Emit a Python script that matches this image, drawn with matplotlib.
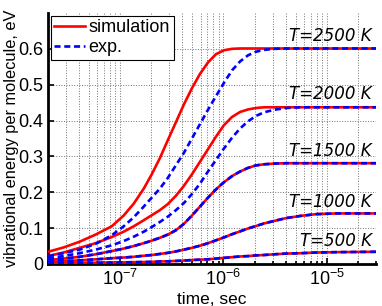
import numpy as np
import matplotlib
matplotlib.use("Agg")
import matplotlib.pyplot as plt
from matplotlib.ticker import LogLocator, NullFormatter

# time, sec
time = [2.0e-8, 2.82e-8, 4.04e-8, 5.78e-8, 8.27e-8, 1.08e-7, 1.35e-7, 1.69e-7, 2.02e-7,
        2.42e-7, 2.89e-7, 3.46e-7, 4.14e-7, 4.95e-7, 5.92e-7, 7.08e-7, 8.46e-7, 1.01e-6,
        1.21e-6, 1.45e-6, 1.73e-6, 2.07e-6, 2.47e-6, 3.09e-6, 4.05e-6, 5.54e-6, 7.91e-6,
        1.24e-5, 3.0e-5]

sim_2500 = [0.034, 0.046, 0.062, 0.082, 0.105, 0.135, 0.168, 0.210, 0.250, 0.295, 0.345,
            0.395, 0.445, 0.490, 0.530, 0.562, 0.585, 0.596, 0.600, 0.601, 0.601, 0.601,
            0.601, 0.601, 0.601, 0.601, 0.601, 0.601, 0.601]
exp_2500 = [0.022, 0.030, 0.040, 0.056, 0.080, 0.105, 0.130, 0.160, 0.185, 0.210, 0.240,
            0.275, 0.310, 0.350, 0.390, 0.430, 0.468, 0.505, 0.540, 0.565, 0.582, 0.592,
            0.597, 0.600, 0.601, 0.601, 0.601, 0.601, 0.601]
sim_2000 = [0.022, 0.032, 0.045, 0.058, 0.075, 0.090, 0.105, 0.122, 0.136, 0.150, 0.167,
            0.190, 0.218, 0.250, 0.285, 0.320, 0.355, 0.387, 0.410, 0.424, 0.431, 0.435,
            0.437, 0.437, 0.437, 0.437, 0.437, 0.437, 0.437]
exp_2000 = [0.016, 0.022, 0.030, 0.040, 0.052, 0.064, 0.076, 0.090, 0.103, 0.117, 0.132,
            0.150, 0.170, 0.195, 0.224, 0.258, 0.290, 0.322, 0.352, 0.378, 0.398, 0.413,
            0.423, 0.430, 0.435, 0.437, 0.437, 0.437, 0.437]
sim_1500 = [0.011, 0.015, 0.020, 0.027, 0.036, 0.043, 0.050, 0.058, 0.065, 0.073, 0.082,
            0.094, 0.112, 0.135, 0.160, 0.185, 0.208, 0.228, 0.245, 0.258, 0.268, 0.275,
            0.278, 0.280, 0.281, 0.281, 0.281, 0.281, 0.281]
exp_1500 = [0.011, 0.015, 0.020, 0.027, 0.036, 0.043, 0.050, 0.058, 0.065, 0.073, 0.082,
            0.094, 0.112, 0.135, 0.160, 0.185, 0.208, 0.228, 0.245, 0.258, 0.268, 0.275,
            0.278, 0.280, 0.281, 0.281, 0.281, 0.281, 0.281]
sim_1000 = [0.006, 0.008, 0.010, 0.013, 0.016, 0.018, 0.020, 0.023, 0.025, 0.028, 0.031,
            0.035, 0.040, 0.045, 0.051, 0.058, 0.066, 0.074, 0.083, 0.091, 0.099, 0.106,
            0.113, 0.120, 0.128, 0.134, 0.139, 0.141, 0.141]
exp_1000 = [0.006, 0.008, 0.010, 0.013, 0.016, 0.018, 0.020, 0.023, 0.025, 0.028, 0.031,
            0.035, 0.040, 0.045, 0.051, 0.058, 0.066, 0.074, 0.083, 0.091, 0.099, 0.106,
            0.113, 0.120, 0.128, 0.134, 0.139, 0.141, 0.141]
sim_500 = [0.002, 0.0025, 0.003, 0.0035, 0.004, 0.0045, 0.005, 0.0055, 0.006, 0.007, 0.0075,
           0.0085, 0.0095, 0.011, 0.012, 0.013, 0.015, 0.017, 0.019, 0.021, 0.022, 0.024,
           0.025, 0.027, 0.029, 0.030, 0.032, 0.033, 0.034]
exp_500 = [0.002, 0.0025, 0.003, 0.0035, 0.004, 0.0045, 0.005, 0.0055, 0.006, 0.007, 0.0075,
           0.0085, 0.0095, 0.011, 0.012, 0.013, 0.015, 0.017, 0.019, 0.021, 0.022, 0.024,
           0.025, 0.027, 0.029, 0.030, 0.032, 0.033, 0.034]

temp_labels = ["T=2500 K", "T=2000 K", "T=1500 K", "T=1000 K", "T=500 K"]
label_y = [0.622, 0.460, 0.300, 0.159, 0.050]

sims = [sim_2500, sim_2000, sim_1500, sim_1000, sim_500]
exps = [exp_2500, exp_2000, exp_1500, exp_1000, exp_500]

plt.rcParams['font.family'] = ['Liberation Sans', 'DejaVu Sans']

fig = plt.figure(figsize=(3.82, 3.06), dpi=100)
ax = fig.add_axes([0.1257, 0.1373, 0.8586, 0.8203])

for i, (s, e) in enumerate(zip(sims, exps)):
    ax.plot(time, s, color='red', lw=1.9, solid_joinstyle='round',
            label='simulation' if i == 0 else None, zorder=3)
    ax.plot(time, e, color='blue', lw=1.9, linestyle=(0, (2.3, 1.4)),
            label='exp.' if i == 0 else None, zorder=4)

ax.set_xscale('log')
ax.set_xlim(2e-8, 3e-5)
ax.set_ylim(0, 0.7)
ax.set_yticks([0, 0.1, 0.2, 0.3, 0.4, 0.5, 0.6])
ax.set_yticklabels(['0', '0.1', '0.2', '0.3', '0.4', '0.5', '0.6'])
ax.xaxis.set_major_locator(LogLocator(base=10, numticks=10))
ax.xaxis.set_minor_locator(LogLocator(base=10, subs=np.arange(2, 10), numticks=20))
ax.xaxis.set_minor_formatter(NullFormatter())

ax.grid(True, which='major', axis='both', linestyle=':', color='0.45', lw=0.7, zorder=0)
ax.grid(True, which='minor', axis='x', linestyle=':', color='0.45', lw=0.7, zorder=0)
ax.set_axisbelow(True)

ax.tick_params(which='both', direction='in', labelsize=13, width=1.2)
ax.tick_params(which='major', length=4)
ax.tick_params(which='minor', length=2.5)
ax.spines['top'].set_visible(False)
ax.spines['right'].set_visible(False)
ax.spines['left'].set_linewidth(2)
ax.spines['bottom'].set_linewidth(2)

ax.set_xlabel('time, sec', fontsize=12.5, labelpad=2)
ax.set_ylabel('vibrational energy per molecule, eV', fontsize=11.8)
ax.yaxis.set_label_coords(-0.088, 0.5)

for lab, yv in zip(temp_labels, label_y):
    ax.text(2.75e-5, yv, lab, ha='right', va='baseline', fontsize=12,
            style='italic', family='DejaVu Sans', zorder=5)

leg = ax.legend(loc='upper left', fontsize=13, frameon=True, fancybox=False,
                borderaxespad=0.15, handlelength=1.7, handletextpad=0.2,
                borderpad=0.2, labelspacing=0.15, framealpha=1)
leg.get_frame().set_edgecolor('black')
leg.get_frame().set_linewidth(0.8)

fig.savefig('out.png', dpi=100)
